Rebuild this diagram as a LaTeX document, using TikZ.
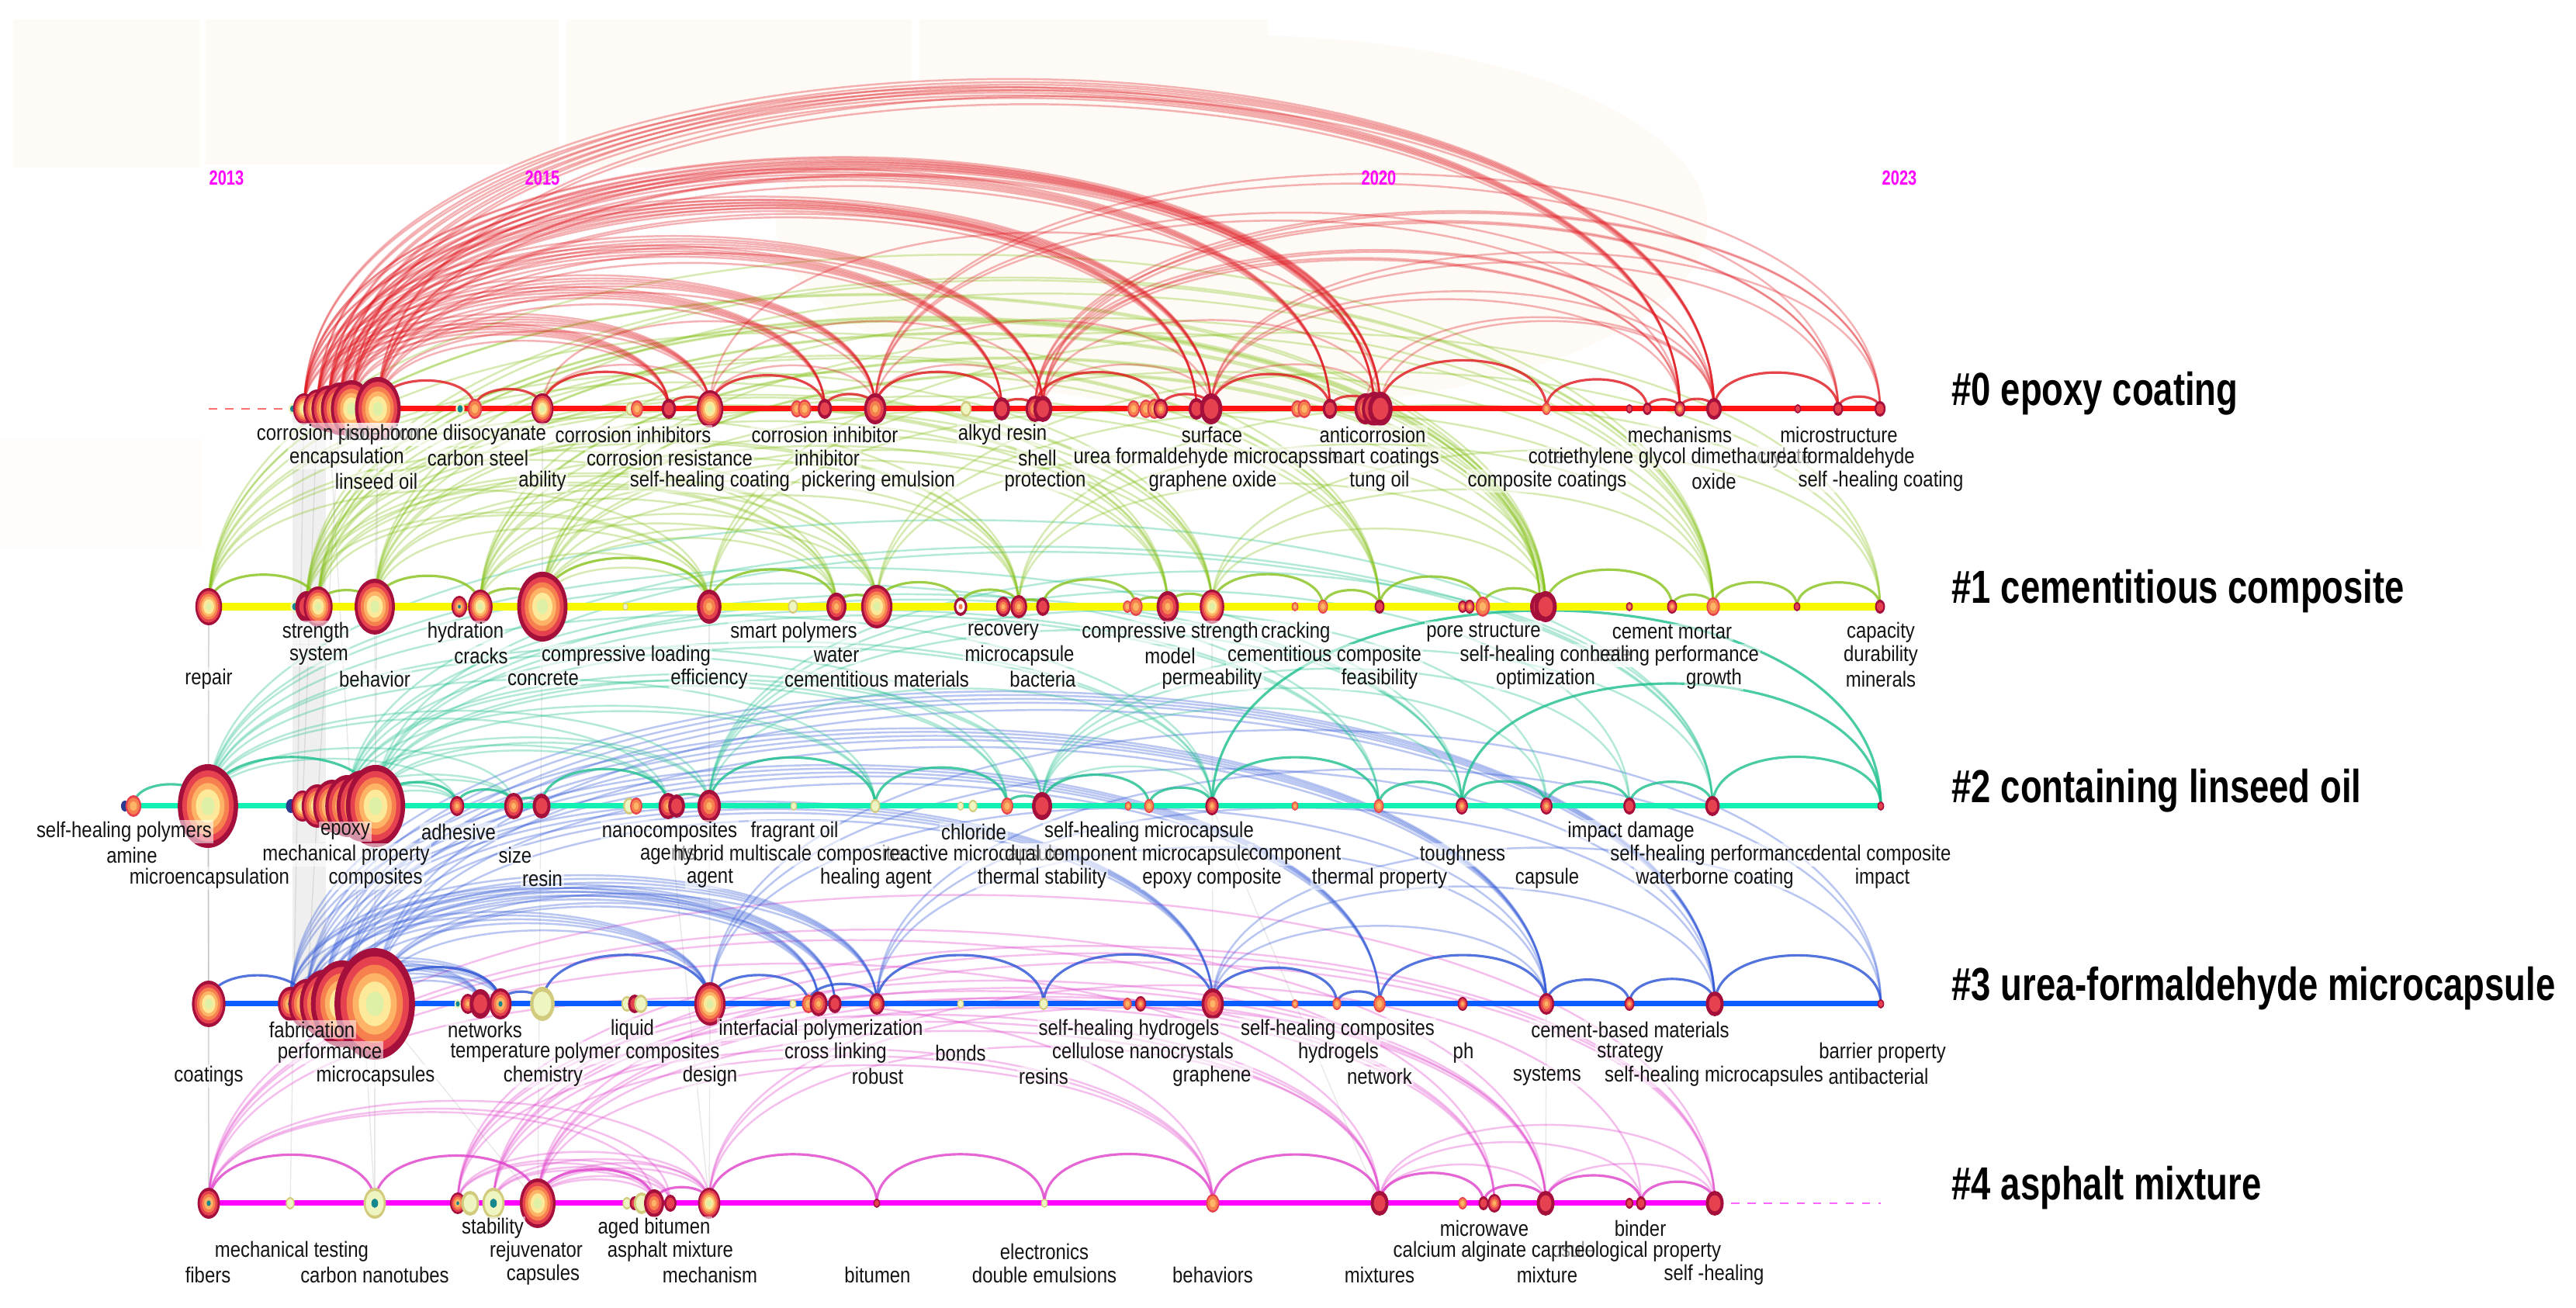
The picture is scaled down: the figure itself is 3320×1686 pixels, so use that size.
\documentclass[tikz,border=0pt]{standalone}
\usepackage{fontspec}
\setmainfont{Liberation Sans}
\newfontfamily\lblfont{Liberation Sans}[FakeStretch=0.85]
\newfontfamily\ttlfont{Liberation Sans}[FakeStretch=0.76]
\definecolor{cDR}{HTML}{A50F3C}
\definecolor{cR}{HTML}{E6414F}
\definecolor{cO}{HTML}{F6804E}
\definecolor{cLO}{HTML}{FDB466}
\definecolor{cY}{HTML}{FDE99A}
\definecolor{cPG}{HTML}{DDF0A6}
\definecolor{cKh}{HTML}{D2CB7E}
\definecolor{cPY}{HTML}{EEF5C0}
\definecolor{cTl}{HTML}{14878F}
\definecolor{cNv}{HTML}{2B3A8F}
\definecolor{cL0}{HTML}{FF1212}
\definecolor{cL1}{HTML}{F8F800}
\definecolor{cL2}{HTML}{12F0B4}
\definecolor{cL3}{HTML}{0B5CFF}
\definecolor{cL4}{HTML}{FF00FF}
\definecolor{cA0}{HTML}{E0161E}
\definecolor{cA1}{HTML}{86C21A}
\definecolor{cA2}{HTML}{1CBF8E}
\definecolor{cA3}{HTML}{2A52D5}
\definecolor{cA4}{HTML}{E03FCB}
\definecolor{cHz}{HTML}{FEFBF7}
\definecolor{cTx}{HTML}{141414}
\def\palR{cDR/1,cR/.85,cO/.7,cLO/.55,cY/.4,cPG/.22}
\def\palC{cDR/1,cR/.75,cO/.5,cLO/.25}
\def\palF{cDR/1,cR/.65}
\def\palD{cR/1,cO/.78,cLO/.45}
\def\palP{cKh/1,cPY/.72}
\def\palT{cPY/1,cTl/.6}
\def\palN{cNv/1}
\def\palW{cDR/1,white/.65,cO/.3}
\def\palV{cDR/1,cR/.8,cO/.6,cLO/.4,cTl/.18}
\def\palG{cKh/1,cPY/.8,cTl/.3}
\newcommand{\kwdraw}[3]{% name, ry, palette
  \expandafter\let\expandafter\curpal\csname pal#3\endcsname
  \foreach \cc/\ss in \curpal {\fill[\cc] (#1) ellipse [x radius={0.72*\ss*#2*0.01cm}, y radius={\ss*#2*0.01cm}];}}
\def\rowA{a0/377/7/T,a1/392/20/R,a2/409/25/R,a3/423/30/R,a4/438/34/R,a5/453/37/R,a6/487/41/R,a7/593/8/T,a8/612/13/D,a9/699/20/R,a10/813/9/P,a11/821/11/D,a12/862/13/F,a13/915/24/R,a14/1027/11/D,a15/1037/12/D,a16/1063/13/F,a17/1128/20/C,a18/1245/10/P,a19/1291/15/F,a20/1334/17/C,a21/1344/17/F,a22/1461/11/D,a23/1477/12/D,a24/1488/13/D,a25/1496/13/C,a26/1542/14/F,a27/1561/20/F,a28/1672/11/D,a29/1681/12/D,a30/1714/13/F,a31/1760/20/C,a32/1771/22/C,a33/1779/22/F,a34/1993/8/D,a35/2100/6/F,a36/2123/8/F,a37/2165/10/C,a38/2209/14/F,a39/2317/6/F,a40/2369/9/F,a41/2423/10/F}
\def\rowB{b0/269/24/R,b1/380/8/T,b2/395/20/F,b3/410/26/R,b4/483/36/R,b5/592/14/V,b6/619/22/R,b7/699/45/R,b8/806/5/P,b9/914/22/C,b10/1022/9/P,b11/1078/18/C,b12/1130/28/R,b13/1238/12/W,b14/1293/13/C,b15/1313/15/C,b16/1344/12/F,b17/1453/8/D,b18/1464/12/D,b19/1505/20/C,b20/1562/22/R,b21/1669/6/D,b22/1705/9/D,b23/1778/9/F,b24/1885/8/C,b25/1894/9/C,b26/1911/13/D,b27/1985/18/F,b28/1992/20/F,b29/2100/6/C,b30/2155/9/C,b31/2208/12/D,b32/2316/6/F,b33/2423/9/F}
\def\rowC{c0/161/7/N,c1/172/14/D,c2/268/54/R,c3/375/9/N,c4/390/20/R,c5/409/28/R,c6/428/34/R,c7/448/40/R,c8/467/46/R,c9/484/53/R,c10/589/13/C,c11/662/17/C,c12/698/16/F,c13/811/11/P,c14/820/11/D,c15/861/17/C,c16/872/15/F,c17/914/21/C,c18/1023/6/P,c19/1128/9/P,c20/1238/6/P,c21/1254/8/P,c22/1298/11/D,c23/1343/18/F,c24/1454/6/D,c25/1481/9/D,c26/1562/12/C,c27/1669/6/D,c28/1777/9/D,c29/1884/11/C,c30/1993/11/C,c31/2100/11/F,c32/2207/13/F,c33/2424/6/F}
\def\rowD{d0/269/30/R,d1/374/22/V,d2/395/32/R,d3/418/44/R,d4/441/56/R,d5/483/72/R,d6/590/6/T,d7/603/13/C,d8/619/19/F,d9/645/20/V,d10/699/22/P,d11/808/10/P,d12/818/12/F,d13/826/12/P,d14/915/28/R,d15/1022/6/P,d16/1042/12/D,d17/1055/16/C,d18/1076/12/F,d19/1130/14/C,d20/1238/6/P,d21/1345/8/P,d22/1453/8/D,d23/1470/10/C,d24/1563/20/C,d25/1669/6/D,d26/1723/8/D,d27/1778/11/D,d28/1885/9/C,d29/1993/14/C,d30/2100/9/C,d31/2210/16/F,d32/2424/6/F}
\def\rowE{e0/269/20/V,e1/374/8/P,e2/483/20/G,e3/590/14/V,e4/606/16/P,e5/636/20/G,e6/693/32/R,e7/808/8/P,e8/818/9/F,e9/827/14/P,e10/843/18/C,e11/864/11/F,e12/914/20/R,e13/1130/6/F,e14/1346/6/P,e15/1563/12/D,e16/1778/16/F,e17/1885/8/D,e18/1912/9/F,e19/1926/12/C,e20/1992/16/F,e21/2100/7/F,e22/2115/9/F,e23/2210/16/F}
\tikzset{
  arcfaint/.style={line width=0.7pt, draw opacity=0.33},
  arcstrong/.style={line width=0.9pt, draw opacity=0.8},
  tline/.style={line width=2pt},
  lbl/.style={font=\lblfont\fontsize{8}{9}\selectfont, text=cTx, fill=white, fill opacity=0.55, text opacity=1, inner sep=0.6pt},
  ttl/.style={font=\ttlfont\bfseries\fontsize{17}{20}\selectfont, anchor=west, inner sep=0pt},
  yr/.style={font=\ttlfont\bfseries\fontsize{7.5}{9}\selectfont, text=cL4, inner sep=0pt},
  grayln/.style={draw=gray, line width=0.4pt, draw opacity=0.18}
}
\begin{document}
\begin{tikzpicture}[x=0.01cm,y=0.01cm]
\fill[white] (0,0) rectangle (3320,1686);
\useasboundingbox (0,0) rectangle (3320,1686);
% background haze
\fill[cHz] (17,1470) rectangle (258,1661);
\fill[cHz] (265,1474) rectangle (720,1661);
\fill[cHz] (730,1470) rectangle (1175,1661);
\fill[cHz] (1185,1466) rectangle (1634,1661);
\fill[cHz] (1600,1400) ellipse [x radius=6cm, y radius=2.4cm];
\fill[orange!25, opacity=0.08] (0,980) rectangle (260,1120);
\fill[gray, opacity=0.12] (377,392) rectangle (420,1159);
% coordinates
\foreach \n/\x/\r/\p in \rowA {\coordinate (\n) at (\x,1159);}
\foreach \n/\x/\r/\p in \rowB {\coordinate (\n) at (\x,904);}
\foreach \n/\x/\r/\p in \rowC {\coordinate (\n) at (\x,647);}
\foreach \n/\x/\r/\p in \rowD {\coordinate (\n) at (\x,392);}
\foreach \n/\x/\r/\p in \rowE {\coordinate (\n) at (\x,135);}
% faint cross-cluster links
\foreach \sa/\ta in {e0/d0,e2/d5,e6/d5,d0/c2,d5/c9,c2/b0,c9/b4,b4/a6,b7/a9,c17/b9,d14/c17,e12/d14,a6/c9,b0/d0,e0/c2,e1/a1,e2/a3,d2/a4,c4/a2,e6/b7,e12/c15,d24/b20,e16/c26,e20/d29}
  {\draw[grayln] (\sa) -- (\ta);}
% row 4 arcs
\foreach \sa in {e0,e3,e5,e6}{\foreach \ta in {e10,e11,e12,e15,e16,e19,e20,e23}
  {\draw[arcfaint, draw=cA4] (\sa) to[out=90,in=90,looseness=0.7] (\ta);}}
\foreach \sa/\ta in {e12/e16,e12/e20,e16/e20,e16/e23,e20/e23,e6/e12,e12/e22,e16/e22}
  {\draw[arcfaint, draw=cA4] (\sa) to[out=90,in=90,looseness=0.8] (\ta);}
\foreach \sa/\ta in {e0/e2,e2/e6,e6/e10,e10/e12,e12/e13,e13/e14,e14/e15,e15/e16,e16/e18,e18/e20,e20/e22,e22/e23}
  {\draw[arcstrong, draw=cA4] (\sa) to[out=90,in=90,looseness=1] (\ta);}
% row 3 arcs
\foreach \sa in {d1,d2,d3,d4,d5}{\foreach \ta in {d8,d9,d14,d17,d18,d19,d24,d27,d29,d31}
  {\draw[arcfaint, draw=cA3] (\sa) to[out=90,in=90,looseness=0.75] (\ta);}}
\foreach \sa in {d14,d19,d24}{\foreach \ta in {d29,d31,d32}
  {\draw[arcfaint, draw=cA3] (\sa) to[out=90,in=90,looseness=0.8] (\ta);}}
\foreach \sa/\ta in {d0/d2,d5/d9,d9/d10,d10/d14,d14/d16,d16/d19,d19/d21,d21/d24,d24/d26,d26/d27,d27/d29,d29/d30,d30/d31,d31/d32}
  {\draw[arcstrong, draw=cA3] (\sa) to[out=90,in=90,looseness=1] (\ta);}
% row 2 arcs
\foreach \sa in {c2,c7,c9}{\foreach \ta in {c10,c11,c15,c17,c19,c22,c23,c26,c28,c29,c32}
  {\draw[arcfaint, draw=cA2] (\sa) to[out=90,in=90,looseness=0.65] (\ta);}}
\foreach \sa in {c17,c23}{\foreach \ta in {c26,c29,c30,c31,c32}
  {\draw[arcfaint, draw=cA2] (\sa) to[out=90,in=90,looseness=0.8] (\ta);}}
\foreach \sa/\ta in {c26/c33,c29/c33,c1/c2,c2/c9,c9/c10,c10/c11,c11/c12,c12/c15,c15/c17,c17/c19,c19/c22,c22/c23,c23/c25,c25/c26,c26/c28,c28/c29,c29/c30,c30/c31,c31/c32,c32/c33}
  {\draw[arcstrong, draw=cA2] (\sa) to[out=90,in=90,looseness=1] (\ta);}
% row 1 arcs
\foreach \sa in {b0,b2,b3,b4,b6,b7}{\foreach \ta in {b9,b11,b12,b15,b19,b20,b23,b27,b28,b31}
  {\draw[arcfaint, draw=cA1] (\sa) to[out=90,in=90,looseness=0.8] (\ta);}}
\foreach \sa in {b9,b12,b15,b20}{\foreach \ta in {b28,b31,b33}
  {\draw[arcfaint, draw=cA1] (\sa) to[out=90,in=90,looseness=0.8] (\ta);}}
\foreach \sa/\ta in {b0/b3,b3/b4,b4/b6,b6/b7,b7/b9,b9/b11,b11/b12,b12/b13,b13/b15,b15/b16,b16/b18,b18/b19,b19/b20,b20/b22,b22/b23,b23/b26,b26/b28,b28/b30,b30/b31,b31/b32,b32/b33}
  {\draw[arcstrong, draw=cA1] (\sa) to[out=90,in=90,looseness=1] (\ta);}
% row 0 arcs
\foreach \sa in {a1,a2,a3,a4,a5,a6}{\foreach \ta in {a12,a13,a16,a17,a19,a21,a26,a27,a30,a32,a33,a37,a38}
  {\draw[arcfaint, draw=cA0] (\sa) to[out=90,in=90,looseness=0.8] (\ta);}}
\foreach \sa in {a17,a20,a21,a27}{\foreach \ta in {a37,a38,a40,a41}
  {\draw[arcfaint, draw=cA0] (\sa) to[out=90,in=90,looseness=0.8] (\ta);}}
\foreach \sa/\ta in {a9/a13,a9/a17,a13/a17,a13/a21,a17/a21,a17/a27,a21/a27,a21/a33,a27/a33,a31/a38,a33/a38,a13/a33}
  {\draw[arcfaint, draw=cA0] (\sa) to[out=90,in=90,looseness=0.9] (\ta);}
\foreach \sa/\ta in {a6/a8,a8/a9,a9/a12,a12/a13,a13/a16,a16/a17,a17/a19,a19/a20,a20/a25,a25/a27,a27/a30,a30/a32,a33/a34,a34/a36,a36/a37,a37/a38,a38/a40,a40/a41}
  {\draw[arcstrong, draw=cA0] (\sa) to[out=90,in=90,looseness=1] (\ta);}
% timelines
\coordinate (r0d) at (269,1159); \coordinate (r0s) at (377,1159); \coordinate (r0e) at (2424,1159);
\coordinate (r1s) at (269,904); \coordinate (r1e) at (2424,904);
\coordinate (r2s) at (161,647); \coordinate (r2e) at (2424,647);
\coordinate (r3s) at (269,392); \coordinate (r3e) at (2424,392);
\coordinate (r4s) at (269,135); \coordinate (r4m) at (2210,135); \coordinate (r4e) at (2424,135);
\draw[cL0!60, dashed, line width=0.8pt] (r0d) -- (r0s);
\draw[tline, cL0] (r0s) -- (r0e);
\draw[tline, cL1, line width=2.6pt] (r1s) -- (r1e);
\draw[tline, cL2] (r2s) -- (r2e);
\draw[tline, cL3] (r3s) -- (r3e);
\draw[tline, cL4] (r4s) -- (r4m);
\draw[cL4!60, dashed, line width=0.8pt] (r4m) -- (r4e);
% keyword nodes
\foreach \n/\x/\r/\p in \rowA {\kwdraw{\n}{\r}{\p}}
\foreach \n/\x/\r/\p in \rowB {\kwdraw{\n}{\r}{\p}}
\foreach \n/\x/\r/\p in \rowC {\kwdraw{\n}{\r}{\p}}
\foreach \n/\x/\r/\p in \rowD {\kwdraw{\n}{\r}{\p}}
\foreach \n/\x/\r/\p in \rowE {\kwdraw{\n}{\r}{\p}}
% labels row 0
\foreach \x/\tx in {436/corrosion protection,575/isophorone diisocyanate,816/corrosion inhibitors,1063/corrosion inhibitor,1292/alkyd resin,1562/surface,1769/anticorrosion,2165/mechanisms,2370/microstructure}
  {\node[lbl] (la1-\x) at (\x,1126) {\tx};}
\foreach \x/\tx in {447/encapsulation,616/carbon steel,863/corrosion resistance,1066/inhibitor,1337/shell,1557/urea formaldehyde microcapsule,1777/smart coatings,1993/core,2165/triethylene glycol dimethacrylate,2368/urea formaldehyde}
  {\node[lbl] (la2-\x) at (\x,1096) {\tx};}
\foreach \x/\tx in {485/linseed oil,699/ability,915/self-healing coating,1132/pickering emulsion,1347/protection,1563/graphene oxide,1778/tung oil,1994/composite coatings,2209/oxide,2424/self -healing coating}
  {\node[lbl] (la3-\x) at (\x,1066) {\tx};}
% labels row 1
\foreach \x/\tx in {407/strength,600/hydration,1023/smart polymers,1293/recovery,1508/compressive strength,1670/cracking,1912/pore structure,2155/cement mortar,2424/capacity}
  {\node[lbl] (lb1-\x) at (\x,871) {\tx};}
\foreach \x/\tx in {411/system,620/cracks,807/compressive loading,1078/water,1314/microcapsule,1508/model,1707/cementitious composite,1992/self-healing concrete,2158/healing performance,2424/durability}
  {\node[lbl] (lb2-\x) at (\x,841) {\tx};}
\foreach \x/\tx in {269/repair,483/behavior,700/concrete,914/efficiency,1130/cementitious materials,1344/bacteria,1562/permeability,1778/feasibility,1992/optimization,2209/growth,2424/minerals}
  {\node[lbl] (lb3-\x) at (\x,811) {\tx};}
% labels row 2
\foreach \x/\tx in {160/self-healing polymers,445/epoxy,591/adhesive,863/nanocomposites,1024/fragrant oil,1255/chloride,1481/self-healing microcapsule,2102/impact damage}
  {\node[lbl] (lc1-\x) at (\x,614) {\tx};}
\foreach \x/\tx in {170/amine,446/mechanical property,664/size,861/agents,1021/hybrid multiscale composites,1254/reactive microcapsule,1454/dual component microcapsule,1669/component,1885/toughness,2207/self-healing performance,2424/dental composite}
  {\node[lbl] (lc2-\x) at (\x,584) {\tx};}
\foreach \x/\tx in {270/microencapsulation,484/composites,699/resin,915/agent,1129/healing agent,1343/thermal stability,1562/epoxy composite,1778/thermal property,1994/capsule,2210/waterborne coating,2426/impact}
  {\node[lbl] (lc3-\x) at (\x,554) {\tx};}
% labels row 3
\foreach \x/\tx in {402/fabrication,625/networks,815/liquid,1058/interfacial polymerization,1455/self-healing hydrogels,1724/self-healing composites,2101/cement-based materials}
  {\node[lbl] (ld1-\x) at (\x,359) {\tx};}
\foreach \x/\tx in {425/performance,645/temperature,821/polymer composites,1077/cross linking,1238/bonds,1473/cellulose nanocrystals,1725/hydrogels,1886/ph,2101/strategy,2426/barrier property}
  {\node[lbl] (ld2-\x) at (\x,329) {\tx};}
\foreach \x/\tx in {269/coatings,484/microcapsules,700/chemistry,915/design,1131/robust,1345/resins,1562/graphene,1778/network,1994/systems,2209/self-healing microcapsules,2421/antibacterial}
  {\node[lbl] (ld3-\x) at (\x,299) {\tx};}
% labels row 4
\foreach \x/\tx in {635/stability,843/aged bitumen,1913/microwave,2114/binder}
  {\node[lbl] (le1-\x) at (\x,103) {\tx};}
\foreach \x/\tx in {376/mechanical testing,691/rejuvenator,864/asphalt mixture,1346/electronics,1926/calcium alginate capsule,2113/rheological property}
  {\node[lbl] (le2-\x) at (\x,73) {\tx};}
\foreach \x/\tx in {268/fibers,483/carbon nanotubes,700/capsules,915/mechanism,1131/bitumen,1346/double emulsions,1563/behaviors,1778/mixtures,1994/mixture,2209/self -healing}
  {\node[lbl] (le3-\x) at (\x,43) {\tx};}
% years
\node[yr] (y2013) at (292,1457) {2013};
\node[yr] (y2015) at (699,1457) {2015};
\node[yr] (y2020) at (1777,1457) {2020};
\node[yr] (y2023) at (2448,1457) {2023};
% cluster titles
\node[ttl] (t0) at (2515,1179) {\#0 epoxy coating};
\node[ttl] (t1) at (2515,924) {\#1 cementitious composite};
\node[ttl] (t2) at (2515,667) {\#2 containing linseed oil};
\node[ttl] (t3) at (2515,412) {\#3 urea-formaldehyde microcapsule};
\node[ttl] (t4) at (2515,155) {\#4 asphalt mixture};
\end{tikzpicture}
\end{document}
